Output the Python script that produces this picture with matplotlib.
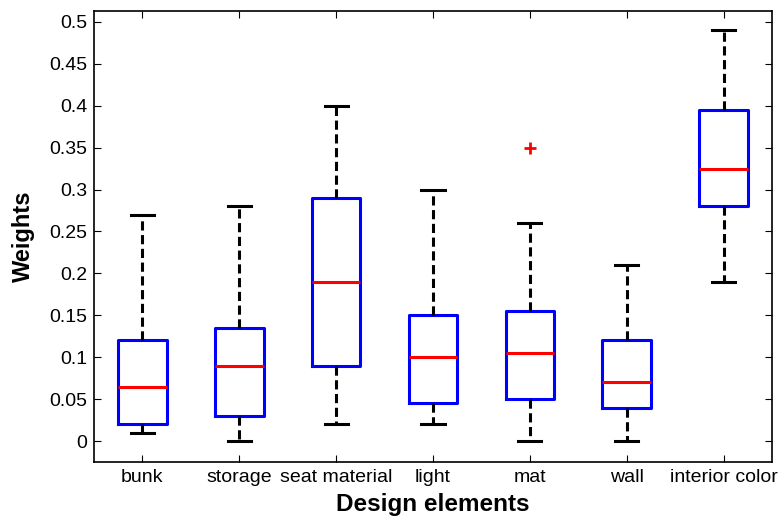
import matplotlib
matplotlib.use("Agg")
import matplotlib.pyplot as plt

plt.rcParams["font.family"] = ["Liberation Sans", "DejaVu Sans"]

labels = ["bunk", "storage", "seat material", "light", "mat", "wall", "interior color"]
whislo = [0.01, 0.0, 0.02, 0.02, 0.0, 0.0, 0.19]
q1 = [0.02, 0.03, 0.09, 0.045, 0.05, 0.04, 0.28]
med = [0.065, 0.09, 0.19, 0.10, 0.105, 0.07, 0.325]
q3 = [0.12, 0.135, 0.29, 0.15, 0.155, 0.12, 0.395]
whishi = [0.27, 0.28, 0.40, 0.30, 0.26, 0.21, 0.49]
fliers = [[], [], [], [], [0.35], [], []]

stats = []
for i, name in enumerate(labels):
    stats.append({
        "label": name,
        "whislo": whislo[i], "q1": q1[i], "med": med[i],
        "q3": q3[i], "whishi": whishi[i], "fliers": fliers[i],
    })

fig = plt.figure(figsize=(7.79, 5.18), dpi=100)
ax = fig.add_axes([94 / 779, 1 - 462 / 518, (772 - 94) / 779, (462 - 11) / 518])

ax.bxp(
    stats,
    positions=range(1, len(labels) + 1),
    widths=0.5,
    showfliers=True,
    boxprops=dict(color="#0000ff", linewidth=2.2),
    medianprops=dict(color="#ff0000", linewidth=2.2),
    whiskerprops=dict(color="black", linewidth=2.2, linestyle=(0, (3, 1.5))),
    capprops=dict(color="black", linewidth=2.2),
    flierprops=dict(marker="+", markeredgecolor="#ff0000", markersize=9,
                    markeredgewidth=2, linestyle="none"),
    capwidths=0.24,
)

ax.set_xlim(0.5, 7.5)
ax.set_ylim(-0.025, 0.513)
ax.set_yticks([0, 0.05, 0.1, 0.15, 0.2, 0.25, 0.3, 0.35, 0.4, 0.45, 0.5])
ax.set_yticklabels(["0", "0.05", "0.1", "0.15", "0.2", "0.25", "0.3",
                    "0.35", "0.4", "0.45", "0.5"])
ax.set_xticks(range(1, len(labels) + 1))
ax.set_xticklabels(labels)

ax.tick_params(direction="in", length=5, width=0.8, top=True, right=True,
               labelsize=14, pad=5)
for s in ax.spines.values():
    s.set_linewidth(1.2)

ax.set_xlabel("Design elements", fontsize=17.5, fontweight="bold", labelpad=5)
ax.set_ylabel("Weights", fontsize=17, fontweight="bold", labelpad=10)

fig.savefig("out.png", dpi=100)
